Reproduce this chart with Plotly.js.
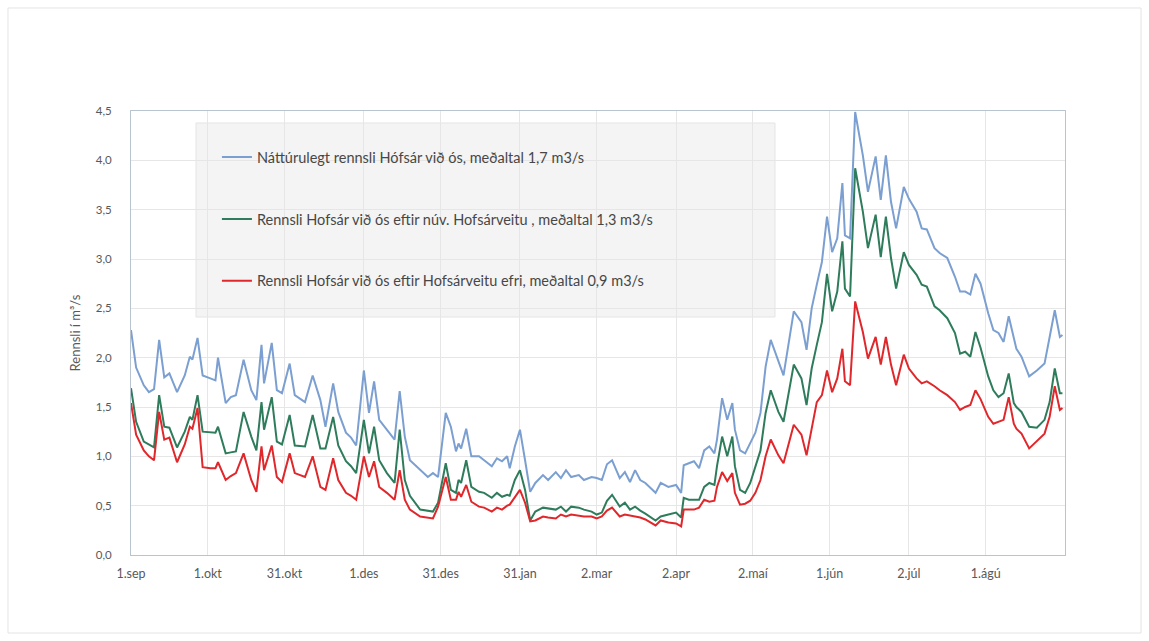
<!DOCTYPE html>
<html>
<head>
<meta charset="utf-8">
<script src="https://cdn.plot.ly/plotly-3.0.1.min.js"></script>
<style>
  html, body { margin: 0; padding: 0; background: #ffffff; }
  #chart { width: 1149px; height: 641px; }
</style>
</head>
<body>
<div id="chart"></div>
<script>
// Day index from 1. september (0) to 31. ágúst (364)
const days = [0,2,5,7,9,11,13,15,18,21,23,24,26,28,31,33,34,37,39,41,44,47,49,51,52,55,57,59,
  62,64,68,71,74,76,79,81,84,86,88,91,93,95,97,100,103,105,107,109,113,116,118,120,123,125,
  127,128,129,131,133,136,138,141,143,145,147,148,150,152,154,156,158,161,163,166,168,170,172,175,177,180,182,184,186,188,
  191,193,195,197,199,201,205,207,210,213,215,216,218,220,222,224,226,228,229,231,233,235,236,238,240,242,244,246,248,
  250,253,255,259,262,264,266,268,270,272,274,276,278,279,281,283,286,288,291,293,295,297,299,302,304,307,309,311,
  314,316,319,322,324,326,328,330,332,335,337,339,341,343,345,346,348,351,354,357,359,361,363,364];

const naturalFlow = [2.28,1.90,1.72,1.65,1.68,2.18,1.80,1.84,1.65,1.82,2.01,1.98,2.20,1.82,1.79,1.77,2.00,1.54,1.60,1.62,1.98,1.67,1.57,2.13,1.74,2.15,1.67,1.64,
  1.94,1.62,1.55,1.82,1.57,1.30,1.74,1.45,1.24,1.19,1.11,1.87,1.44,1.76,1.37,1.27,1.17,1.66,1.20,0.96,0.86,0.79,0.83,0.79,1.44,1.30,
  1.05,1.13,1.08,1.28,1.00,1.00,0.96,0.90,0.98,0.95,1.00,0.88,1.10,1.27,0.96,0.64,0.73,0.81,0.76,0.84,0.78,0.86,0.79,0.81,0.76,0.79,0.78,0.76,0.92,0.96,
  0.78,0.84,0.74,0.86,0.76,0.73,0.63,0.73,0.69,0.71,0.63,0.91,0.93,0.95,0.88,1.06,1.10,1.03,1.17,1.59,1.37,1.54,1.27,1.06,1.03,1.14,1.24,1.44,1.91,
  2.18,1.96,1.82,2.47,2.36,2.08,2.50,2.74,2.97,3.43,3.07,3.21,3.77,3.24,3.21,4.49,4.05,3.68,4.04,3.60,4.05,3.58,3.31,3.73,3.61,3.48,3.31,3.30,
  3.11,3.06,3.01,2.82,2.67,2.67,2.64,2.85,2.75,2.45,2.28,2.25,2.16,2.42,2.21,2.09,2.01,1.81,1.87,1.94,2.21,2.48,2.21,2.23];

const currentDiversion = [1.69,1.35,1.15,1.12,1.09,1.62,1.30,1.29,1.09,1.25,1.40,1.37,1.62,1.25,1.24,1.24,1.30,1.03,1.04,1.05,1.45,1.20,1.06,1.55,1.27,1.60,1.15,1.12,
  1.42,1.11,1.10,1.42,1.08,1.08,1.40,1.11,0.95,0.90,0.83,1.37,1.03,1.30,0.96,0.83,0.73,1.27,0.76,0.60,0.46,0.45,0.44,0.53,0.93,0.66,
  0.63,0.76,0.73,0.96,0.69,0.64,0.63,0.58,0.63,0.59,0.61,0.60,0.76,0.86,0.66,0.35,0.44,0.48,0.47,0.46,0.49,0.44,0.49,0.48,0.46,0.44,0.41,0.43,0.55,0.61,
  0.49,0.53,0.46,0.49,0.45,0.42,0.35,0.39,0.41,0.43,0.38,0.58,0.56,0.56,0.56,0.69,0.73,0.71,0.90,1.20,1.00,1.20,0.90,0.66,0.63,0.73,0.90,1.06,1.44,
  1.67,1.45,1.35,1.93,1.79,1.52,1.89,2.13,2.36,2.85,2.47,2.67,3.18,2.70,2.62,3.92,3.48,3.11,3.45,3.02,3.43,3.01,2.70,3.07,2.94,2.84,2.74,2.72,
  2.52,2.48,2.40,2.25,2.04,2.06,2.01,2.26,2.10,1.81,1.67,1.60,1.64,1.84,1.54,1.50,1.45,1.30,1.29,1.37,1.55,1.89,1.64,1.64];

const upperDiversion = [1.54,1.22,1.06,1.00,0.96,1.45,1.17,1.19,0.94,1.12,1.30,1.28,1.49,0.89,0.88,0.88,0.94,0.76,0.80,0.83,1.03,0.76,0.64,1.10,0.86,1.11,0.79,0.74,
  1.03,0.83,0.79,1.00,0.69,0.66,0.98,0.76,0.63,0.60,0.56,1.00,0.79,0.95,0.69,0.63,0.56,0.86,0.56,0.46,0.39,0.38,0.37,0.49,0.79,0.56,
  0.56,0.64,0.59,0.71,0.54,0.49,0.48,0.44,0.48,0.46,0.50,0.51,0.59,0.66,0.53,0.34,0.35,0.39,0.38,0.37,0.41,0.39,0.41,0.40,0.39,0.39,0.37,0.39,0.45,0.48,
  0.39,0.41,0.40,0.39,0.38,0.36,0.30,0.35,0.33,0.32,0.29,0.46,0.46,0.46,0.48,0.56,0.54,0.55,0.69,0.84,0.75,0.83,0.63,0.51,0.52,0.55,0.63,0.76,1.00,
  1.17,1.01,0.93,1.32,1.22,1.01,1.28,1.55,1.62,1.87,1.65,1.79,2.09,1.76,1.72,2.57,2.26,1.99,2.21,1.93,2.21,1.93,1.72,2.03,1.89,1.79,1.74,1.76,
  1.71,1.67,1.62,1.55,1.47,1.50,1.52,1.67,1.58,1.40,1.33,1.35,1.37,1.60,1.33,1.28,1.23,1.08,1.15,1.23,1.40,1.71,1.47,1.49];

const seriesNames = [
  'Náttúrulegt rennsli Hófsár við ós, meðaltal 1,7 m3/s',
  'Rennsli Hofsár við ós eftir núv. Hofsárveitu , meðaltal 1,3 m3/s',
  'Rennsli Hofsár við ós eftir Hofsárveitu efri, meðaltal 0,9 m3/s'
];

const xTickDays = [0,30,60,91,121,152,182,213,243,273,304,334];
const xTickLabels = ['1.sep','1.okt','31.okt','1.des','31.des','31.jan','2.mar','2.apr','2.maí','1.jún','2.júl','1.ágú'];
const yTickVals = [0,0.5,1,1.5,2,2.5,3,3.5,4,4.5];
const yTickLabels = ['0,0','0,5','1,0','1,5','2,0','2,5','3,0','3,5','4,0','4,5'];

const colors = ['#7b9fd0', '#2e7c5c', '#e0272b'];
const values = [naturalFlow, currentDiversion, upperDiversion];

const traces = values.map((v, i) => ({
  x: days,
  y: v,
  type: 'scatter',
  mode: 'lines',
  name: seriesNames[i],
  legendgroup: 'g' + i,
  line: { color: colors[i], width: 2 }
}));

const font = 'Lato, "Open Sans", sans-serif';

const layout = {
  width: 1149,
  height: 641,
  margin: { l: 131, r: 84, t: 111, b: 86 },
  paper_bgcolor: '#ffffff',
  plot_bgcolor: '#ffffff',
  font: { family: font, size: 11, color: '#595959' },
  showlegend: true,
  legend: {
    x: 0.092, y: 0.932, xanchor: 'left', yanchor: 'top',
    bgcolor: 'rgba(0,0,0,0)',
    borderwidth: 0,
    tracegroupgap: 40,
    itemwidth: 30,
    font: { family: font, size: 14.5, color: '#474747' }
  },
  xaxis: {
    range: [0, 365],
    tickvals: xTickDays,
    ticktext: xTickLabels,
    showgrid: true,
    gridcolor: '#e6e6e6',
    gridwidth: 1,
    zeroline: false,
    showline: true,
    linecolor: '#b8c4d0',
    linewidth: 1,
    mirror: true,
    ticks: '',
    ticklabelstandoff: 7,
    tickfont: { family: font, size: 12.5, color: '#595959' }
  },
  yaxis: {
    range: [0, 4.5],
    tickvals: yTickVals,
    ticktext: yTickLabels,
    showgrid: true,
    gridcolor: '#e6e6e6',
    gridwidth: 1,
    zeroline: false,
    showline: true,
    linecolor: '#b8c4d0',
    linewidth: 1,
    mirror: true,
    ticks: '',
    ticklabelstandoff: 16,
    tickfont: { family: font, size: 11.5, color: '#595959' },
    title: { text: 'Rennsli í m³/s', standoff: 12, font: { family: font, size: 13, color: '#595959' } }
  },
  shapes: [
    { type: 'rect', xref: 'paper', yref: 'paper', x0: 0.0696, x1: 0.6895, y0: 0.536, y1: 0.973,
      fillcolor: '#f4f4f4', line: { color: '#e4e4e4', width: 1 }, layer: 'below' },
    { type: 'rect', xref: 'paper', yref: 'paper', x0: -0.1317, x1: 1.0814, y0: -0.1757, y1: 1.232,
      fillcolor: 'rgba(0,0,0,0)', line: { color: '#e4e4e4', width: 1 }, layer: 'below' }
  ]
};

Plotly.newPlot('chart', traces, layout, { displayModeBar: false, staticPlot: true });
</script>
</body>
</html>
